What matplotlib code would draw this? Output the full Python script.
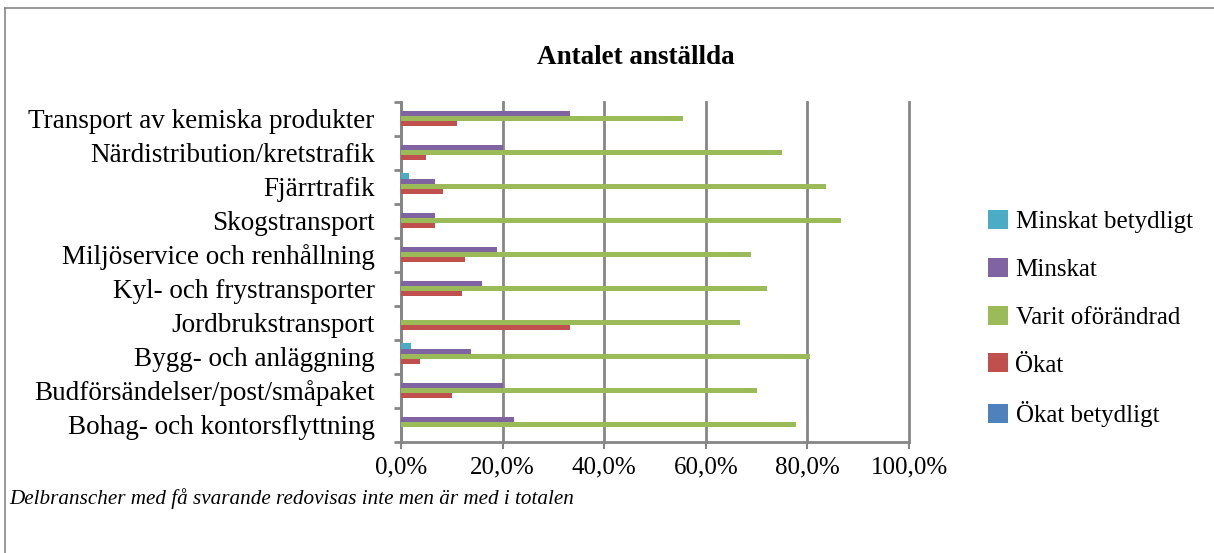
import numpy as np
import matplotlib
matplotlib.use("Agg")
import matplotlib.pyplot as plt
from matplotlib.lines import Line2D
from matplotlib.ticker import FuncFormatter

plt.rcParams["font.family"] = ["Liberation Serif", "DejaVu Serif"]

categories = [
    "Bohag- och kontorsflyttning",
    "Budförsändelser/post/småpaket",
    "Bygg- och anläggning",
    "Jordbrukstransport",
    "Kyl- och frystransporter",
    "Miljöservice och renhållning",
    "Skogstransport",
    "Fjärrtrafik",
    "Närdistribution/kretstrafik",
    "Transport av kemiska produkter",
]

# values in percent, categories from bottom to top
okat_betydligt = [0, 0, 0, 0, 0, 0, 0, 0, 0, 0]
okat = [0, 10.0, 3.8, 33.3, 12.0, 12.5, 6.7, 8.2, 5.0, 11.1]
oforandrad = [77.8, 70.0, 80.6, 66.7, 72.0, 68.8, 86.7, 83.6, 75.0, 55.6]
minskat = [22.2, 20.0, 13.7, 0, 16.0, 18.8, 6.7, 6.6, 20.0, 33.3]
minskat_betydligt = [0, 0, 1.9, 0, 0, 0, 0, 1.6, 0, 0]

series = [
    ("Ökat betydligt", okat_betydligt, "#4F81BD"),
    ("Ökat", okat, "#C0504D"),
    ("Varit oförändrad", oforandrad, "#9BBB59"),
    ("Minskat", minskat, "#8064A2"),
    ("Minskat betydligt", minskat_betydligt, "#4BACC6"),
]

fig = plt.figure(figsize=(12.14, 5.53), dpi=100)
ax = fig.add_axes([401 / 1214, 1 - 441.5 / 553, 508 / 1214, 340 / 553])

y = np.arange(len(categories))
h = 0.156
handles = []
for i, (name, vals, color) in enumerate(series):
    b = ax.barh(y + (i - 2) * h, vals, height=h, color=color, zorder=3, label=name)
    handles.append(b)

grid_c = "#868686"
ax.set_xlim(0, 100)
ax.set_ylim(-0.5, len(categories) - 0.5)
ax.set_xticks(np.arange(0, 101, 20))
ax.xaxis.set_major_formatter(FuncFormatter(lambda v, p: f"{v:.1f}%".replace(".", ",")))
ax.grid(axis="x", color=grid_c, linewidth=2, zorder=0)
for gl in ax.get_xgridlines():
    gl.set_clip_on(False)
ax.set_axisbelow(True)

ax.set_yticks(y)
ax.set_yticklabels(categories)
ax.set_yticks(np.arange(-0.5, len(categories), 1), minor=True)
ax.tick_params(axis="y", which="major", length=0, labelsize=19.5, pad=19)
ax.tick_params(axis="y", which="minor", length=5, width=2, color=grid_c)
ax.tick_params(axis="x", length=5, width=1.5, color=grid_c, labelsize=18, pad=6)

for s in ["top", "right"]:
    ax.spines[s].set_visible(False)
for s in ["left", "bottom"]:
    ax.spines[s].set_color(grid_c)
    ax.spines[s].set_linewidth(2)

fig.text(636 / 1214, 1 - 58 / 553, "Antalet anställda", ha="center", va="center",
         fontsize=19.5, fontweight="bold")

leg = fig.legend(handles[::-1], [s[0] for s in series[::-1]],
                 loc="upper left", bbox_to_anchor=(978 / 1214, 1 - 200 / 553),
                 frameon=False, fontsize=18, handlelength=0.8, handleheight=0.8,
                 handletextpad=0.3, labelspacing=0.98, borderaxespad=0)

fig.text(9 / 1214, 1 - 499 / 553,
         "Delbranscher med få svarande redovisas inte men är med i totalen",
         ha="left", va="center", fontsize=15.2, style="italic")

# outer chart frame
fig.add_artist(Line2D([5 / 1214, 5 / 1214], [0, 1 - 8 / 553], color="#868686", lw=1.2))
fig.add_artist(Line2D([5 / 1214, 1], [1 - 8 / 553, 1 - 8 / 553], color="#868686", lw=1.2))

fig.savefig("out.png", dpi=100)
